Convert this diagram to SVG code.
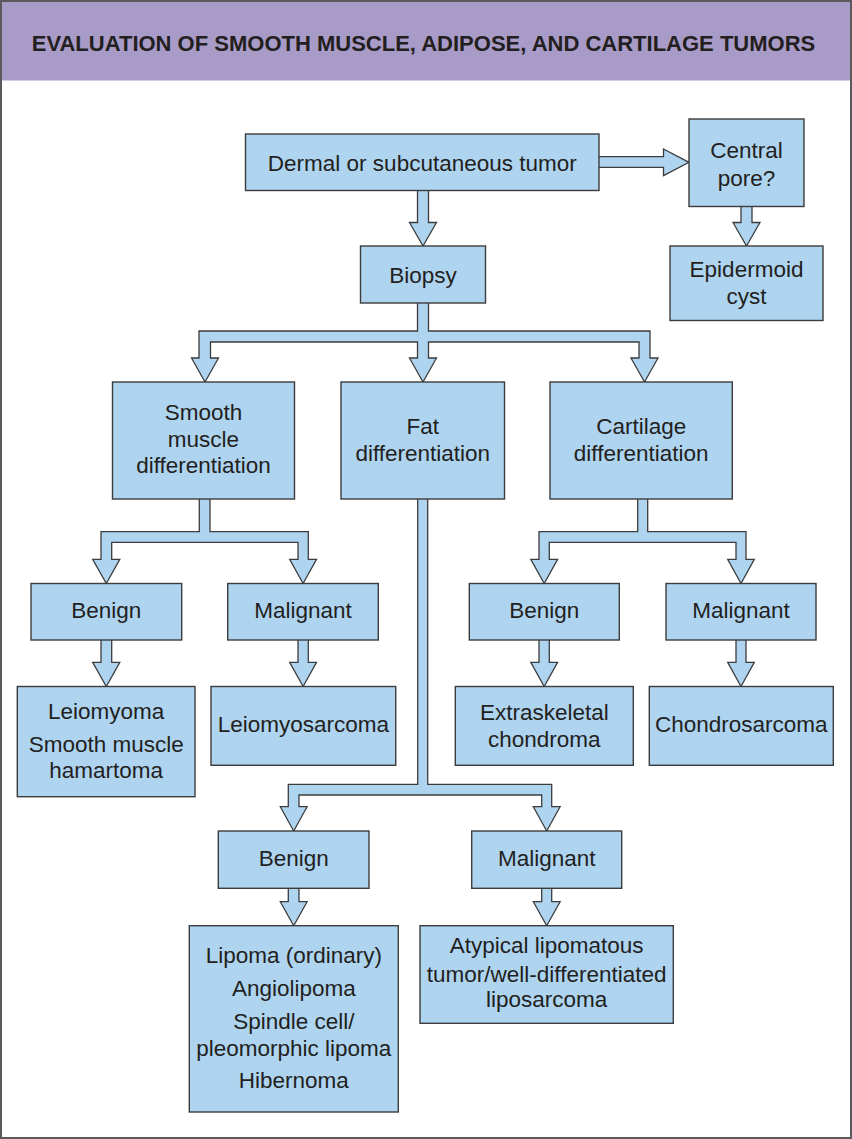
<svg xmlns="http://www.w3.org/2000/svg" width="852" height="1139" viewBox="0 0 852 1139">
<style>
.box{fill:#AED4F0;stroke:#3C3C3C;stroke-width:1.4}
.arr{fill:#AED4F0;stroke:#3C3C3C;stroke-width:1.3;stroke-linejoin:miter}
.t{font-family:"Liberation Sans",Arial,sans-serif;font-size:22.5px;fill:#231F20;text-anchor:middle}
.h{font-family:"Liberation Sans",Arial,sans-serif;font-size:22px;font-weight:bold;fill:#231F20;text-anchor:middle}
</style>
<rect x="0" y="0" width="852" height="1139" fill="#FFFFFF"/>
<g id="header">
<rect x="0" y="0" width="852" height="80.5" fill="#A99BC8"/>
<text class="h" x="423.5" y="50.5">EVALUATION OF SMOOTH MUSCLE, ADIPOSE, AND CARTILAGE TUMORS</text>
</g>
<rect x="1" y="1" width="850" height="1137" fill="none" stroke="#5A5A5A" stroke-width="2"/>
<g id="connectors">
<path class="arr" d="M417.5,186 V222.5 H409.5 L423,246 L436.5,222.5 H428.5 V186 Z"/>
<path class="arr" d="M595,156.7 H663.5 V149 L689,162.3 L663.5,175.6 V167.3 H595 Z"/>
<path class="arr" d="M741,202 V222.5 H733 L746.5,246 L760,222.5 H752 V202 Z"/>
<path class="arr" d="M417.5,299 V331 H199 V358 H191.5 L205,382 L218.5,358 H210.5 V342 H417.5 V358 H409.5 L423,382 L436.5,358 H428.5 V342 H639 V358 H631 L644.5,382 L658,358 H650 V331 H428.5 V299 Z"/>
<path class="arr" d="M199.3,495 V531.7 H101 V559.3 H92.7 L106.3,583.5 L119.8,559.3 H111.7 V542.3 H298 V559.3 H289.7 L303.1,583.5 L316.5,559.3 H308.3 V531.7 H210 V495 Z"/>
<path class="arr" d="M101,636 V662.3 H92.7 L106.3,686.5 L119.8,662.3 H111.7 V636 Z"/>
<path class="arr" d="M298,636 V662.3 H289.7 L303.1,686.5 L316.5,662.3 H308.3 V636 Z"/>
<path class="arr" d="M637.7,495 V531.7 H539 V559.3 H530.8 L544.2,583.5 L557.6,559.3 H549.3 V542.3 H736 V559.3 H727.7 L741,583.5 L754.3,559.3 H746 V531.7 H647.7 V495 Z"/>
<path class="arr" d="M539,636 V662.3 H530.8 L544.2,686.5 L557.6,662.3 H549.3 V636 Z"/>
<path class="arr" d="M736,636 V662.3 H727.7 L741,686.5 L754.3,662.3 H746 V636 Z"/>
<path class="arr" d="M417.7,495 V784.3 H288.3 V806.7 H280.3 L293.7,831 L307.1,806.7 H299 V795 H541.7 V806.7 H533.3 L546.7,831 L560.1,806.7 H551.7 V784.3 H427.7 V495 Z"/>
<path class="arr" d="M288.3,884 V901.7 H280.3 L293.7,925.7 L307.1,901.7 H299 V884 Z"/>
<path class="arr" d="M541.7,884 V901.7 H533.3 L546.7,925.7 L560.1,901.7 H551.7 V884 Z"/>
</g>
<g id="dermal"><rect class="box" x="245.5" y="134" width="353.5" height="56.5"/><text class="t" x="422.3" y="170.5">Dermal or subcutaneous tumor</text></g>
<g id="central-pore"><rect class="box" x="689" y="119" width="115" height="87.5"/><text class="t" x="746.5" y="157.5">Central</text><text class="t" x="746.5" y="185.5">pore?</text></g>
<g id="biopsy"><rect class="box" x="360.5" y="246" width="125" height="57"/><text class="t" x="423" y="282.5">Biopsy</text></g>
<g id="epidermoid"><rect class="box" x="670" y="246" width="153" height="74.5"/><text class="t" x="746.5" y="276.5">Epidermoid</text><text class="t" x="746.5" y="303.5">cyst</text></g>
<g id="smooth-muscle"><rect class="box" x="112.5" y="382" width="182" height="117"/><text class="t" x="203.5" y="419.5">Smooth</text><text class="t" x="203.5" y="446.5">muscle</text><text class="t" x="203.5" y="473">differentiation</text></g>
<g id="fat"><rect class="box" x="341" y="382" width="163.5" height="117"/><text class="t" x="422.8" y="434">Fat</text><text class="t" x="422.8" y="460.7">differentiation</text></g>
<g id="cartilage"><rect class="box" x="550" y="382" width="182.3" height="117"/><text class="t" x="641.2" y="434">Cartilage</text><text class="t" x="641.2" y="460.7">differentiation</text></g>
<g id="sm-benign"><rect class="box" x="31" y="583.5" width="150.7" height="56.5"/><text class="t" x="106.3" y="618.3">Benign</text></g>
<g id="sm-malignant"><rect class="box" x="227.7" y="583.5" width="150.6" height="56.5"/><text class="t" x="303" y="618.3">Malignant</text></g>
<g id="leiomyoma"><rect class="box" x="17.3" y="686.5" width="177.7" height="110.2"/><text class="t" x="106.2" y="719.3">Leiomyoma</text><text class="t" x="106.2" y="751.7">Smooth muscle</text><text class="t" x="106.2" y="778.3">hamartoma</text></g>
<g id="leiomyosarcoma"><rect class="box" x="211" y="686.5" width="184.7" height="78.8"/><text class="t" x="303.3" y="731.7">Leiomyosarcoma</text></g>
<g id="cart-benign"><rect class="box" x="469.3" y="583.5" width="150" height="56.5"/><text class="t" x="544.3" y="618.3">Benign</text></g>
<g id="cart-malignant"><rect class="box" x="666" y="583.5" width="150" height="56.5"/><text class="t" x="741" y="618.3">Malignant</text></g>
<g id="extraskeletal"><rect class="box" x="455.3" y="686.5" width="178" height="78.8"/><text class="t" x="544.3" y="720">Extraskeletal</text><text class="t" x="544.3" y="746.7">chondroma</text></g>
<g id="chondrosarcoma"><rect class="box" x="649.3" y="686.5" width="184" height="78.8"/><text class="t" x="741.3" y="731.7">Chondrosarcoma</text></g>
<g id="fat-benign"><rect class="box" x="218.3" y="831" width="150.7" height="57.3"/><text class="t" x="293.7" y="866">Benign</text></g>
<g id="fat-malignant"><rect class="box" x="471.7" y="831" width="150" height="57.3"/><text class="t" x="546.7" y="866">Malignant</text></g>
<g id="lipoma"><rect class="box" x="189.3" y="925.7" width="209" height="186.3"/><text class="t" x="293.8" y="963.3">Lipoma (ordinary)</text><text class="t" x="293.8" y="995.7">Angiolipoma</text><text class="t" x="293.8" y="1029">Spindle cell/</text><text class="t" x="293.8" y="1055.7">pleomorphic lipoma</text><text class="t" x="293.8" y="1088.3">Hibernoma</text></g>
<g id="atypical"><rect class="box" x="420" y="925.7" width="253.3" height="97.6"/><text class="t" x="546.7" y="953.3">Atypical lipomatous</text><text class="t" x="546.7" y="981.7">tumor/well-differentiated</text><text class="t" x="546.7" y="1007.3">liposarcoma</text></g>
</svg>
